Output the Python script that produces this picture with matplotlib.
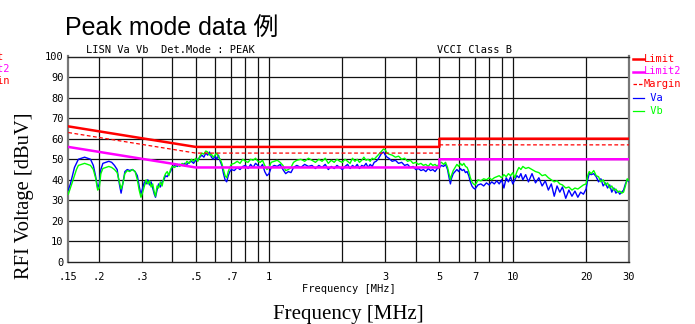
import numpy as np
import matplotlib
matplotlib.use('Agg')
import matplotlib.pyplot as plt
from matplotlib.lines import Line2D

# Limit lines (VCCI class B), frequency in MHz
limit_freq = [0.15, 0.5, 5, 5, 30]
limit_qp = [66, 56, 56, 60, 60]
limit_avg = [56, 46, 46, 50, 50]
margin_freq = [0.15, 0.5, 5, np.nan, 5, 30]
margin_db = [63, 53, 53, np.nan, 57, 57]

# Measured peak data, Va and Vb
freq_mhz = [0.150, 0.153, 0.156, 0.159, 0.162, 0.165, 0.170, 0.175, 0.180, 0.185,
            0.190, 0.194, 0.198, 0.201, 0.204, 0.208, 0.214, 0.220, 0.226, 0.232,
            0.238, 0.243, 0.247, 0.251, 0.256, 0.262, 0.268, 0.275, 0.282, 0.288,
            0.293, 0.298, 0.303, 0.308, 0.313, 0.318, 0.323, 0.328, 0.333, 0.338,
            0.342, 0.347, 0.352, 0.358, 0.364, 0.370, 0.376, 0.382, 0.388, 0.394,
            0.400, 0.410, 0.420, 0.430, 0.440, 0.450, 0.460, 0.470, 0.480, 0.490,
            0.500, 0.510, 0.520, 0.530, 0.540, 0.550, 0.560, 0.570, 0.580, 0.590,
            0.600, 0.610, 0.620, 0.630, 0.640, 0.650, 0.660, 0.670, 0.680, 0.690,
            0.700, 0.720, 0.740, 0.760, 0.780, 0.800, 0.820, 0.840, 0.860, 0.880,
            0.900, 0.920, 0.940, 0.960, 0.980, 1.00, 1.02, 1.05, 1.08, 1.11,
            1.14, 1.17, 1.20, 1.23, 1.26, 1.30, 1.35, 1.40, 1.45, 1.50,
            1.55, 1.60, 1.65, 1.70, 1.75, 1.80, 1.85, 1.90, 1.95, 2.00,
            2.05, 2.10, 2.15, 2.20, 2.25, 2.30, 2.35, 2.40, 2.45, 2.50,
            2.55, 2.60, 2.65, 2.70, 2.75, 2.80, 2.85, 2.90, 2.95, 3.00,
            3.05, 3.10, 3.20, 3.30, 3.40, 3.50, 3.60, 3.70, 3.80, 3.90,
            4.00, 4.10, 4.20, 4.30, 4.40, 4.50, 4.60, 4.70, 4.80, 4.90,
            5.00, 5.10, 5.20, 5.30, 5.40, 5.50, 5.55, 5.60, 5.70, 5.80,
            5.90, 6.00, 6.10, 6.20, 6.30, 6.40, 6.50, 6.60, 6.70, 6.80,
            6.90, 7.00, 7.10, 7.20, 7.40, 7.60, 7.80, 8.00, 8.20, 8.40,
            8.60, 8.80, 9.00, 9.20, 9.40, 9.60, 9.80, 10.0, 10.2, 10.4,
            10.6, 10.8, 11.0, 11.3, 11.6, 12.0, 12.4, 12.8, 13.2, 13.6,
            14.0, 14.4, 14.8, 15.2, 15.6, 16.0, 16.5, 17.0, 17.5, 18.0,
            18.5, 19.0, 19.5, 20.0, 20.3, 20.6, 21.0, 21.5, 22.0, 22.5,
            23.0, 23.5, 24.0, 24.5, 25.0, 25.5, 26.0, 26.5, 27.0, 27.5,
            28.0, 28.5, 29.0, 29.5, 30.0]

va = [35, 38, 42, 46, 48, 50, 50.5, 51, 50.5, 50,
      47, 42, 36, 38, 45, 48, 48.5, 49, 48.5, 47,
      45, 38, 33.5, 38, 44, 45, 44.5, 45, 44, 42,
      37, 33, 36, 39, 38, 40, 37.5, 39, 36, 33,
      31.5, 35, 38, 36.5, 39, 40, 42, 41.5, 43, 44,
      46, 47, 46.5, 47.5, 47, 48, 47.5, 48.5, 49, 48,
      49.5, 50, 51, 52, 51, 53, 52, 53.5, 51, 50,
      51.5, 50, 52, 49, 47, 43, 40, 39, 42, 44,
      45, 44.5, 46, 45, 46.5, 47, 45.5, 47.5, 46, 48,
      47, 46, 47.5, 44, 42, 43, 46, 47, 46.5, 47.5,
      45, 43, 44, 43.5, 46, 47, 46, 47.5, 46.5, 47,
      45.5, 47, 46, 47.5, 45, 46.5, 45.5, 47, 46, 45,
      46.5, 47.5, 45.5, 47, 46, 47.5, 45.5, 47, 46.5, 48,
      46, 47.5, 46.5, 48.5, 49, 50, 51.5, 53, 53.5, 52,
      51, 50.5, 49, 49.5, 48, 48.5, 47, 47.5, 46, 46.5,
      45, 45.5, 44.5, 45, 44, 45.5, 44.5, 45, 44, 45.5,
      46, 47, 46.5, 47.5, 45, 40, 38, 40.5, 43, 44,
      45, 44, 45.5, 44.5, 45, 43.5, 44, 42, 39, 37,
      36, 35.5, 36.5, 37.5, 38, 37, 38.5, 37.5, 39, 38,
      39.5, 38, 40, 36, 41, 39, 41.5, 38, 40, 42,
      41, 43, 40, 42.5, 39, 43, 38.5, 41, 37, 39.5,
      35, 38, 32, 37, 34, 36.5, 31, 35, 32, 34.5,
      31.5, 34, 33, 35.5, 40, 43, 42.5, 43, 41.5, 39,
      40.5, 37, 38.5, 36, 37.5, 34, 36, 33.5, 34.5, 33,
      34, 35, 38, 40, 39]

vb = [33, 36, 39, 42, 45, 47, 47.5, 48, 47.5, 47,
      45, 41, 35, 36, 43, 45.5, 46, 46.5, 46, 45,
      43.5, 39, 35.5, 38, 43, 44.5, 44, 45, 44, 40,
      35, 31.5, 34, 37, 40, 38, 39.5, 36.5, 38, 34,
      32, 37, 36, 39, 37, 41, 43, 44, 42, 45,
      46.5, 46, 47.5, 46.5, 48, 47, 49, 48, 50, 49,
      50.5, 49, 51.5, 53, 52.5, 54, 53.5, 52, 52.5, 51,
      52, 53, 51, 50, 48, 45, 42, 41, 44, 46,
      47.5, 48, 49, 48, 50, 49, 48.5, 50, 49.5, 50.5,
      49, 48.5, 49.5, 47, 45, 46, 48.5, 49, 49.5, 48.5,
      47, 44.5, 45, 46, 48.5, 49.5, 50, 49, 50.5, 49.5,
      48.5, 50, 49, 50.5, 48, 49.5, 48.5, 50, 49, 48.5,
      50, 49, 48, 50.5, 49, 50, 48.5, 49.5, 51, 49.5,
      50, 49, 50.5, 50, 51, 52, 53, 54, 55, 54.5,
      53, 52.5, 52, 51, 51.5, 50, 50.5, 49, 49.5, 48,
      48.5, 47.5, 48, 47, 47.5, 46.5, 48, 47, 47.5, 46.5,
      48, 48.5, 47.5, 48.5, 46, 42, 40, 42, 44.5, 46,
      47.5, 46.5, 48, 47, 48, 46.5, 46, 44, 41, 39,
      38, 37.5, 38.5, 40, 39.5, 40.5, 40, 41, 40, 41,
      41.5, 42, 41, 42.5, 41.5, 43, 42, 43.5, 41, 44,
      46, 45, 46.5, 45.5, 46, 45, 44, 43.5, 42, 42.5,
      41, 40, 39, 39.5, 38, 37.5, 36, 36.5, 35, 36,
      35.5, 36.5, 37.5, 38, 42, 44, 43, 44.5, 42, 41.5,
      39, 40, 37.5, 38.5, 36, 37, 35, 35.5, 34, 34.5,
      33.5, 34, 37, 40.5, 39.5]

y_ticks = list(range(0, 101, 10))
x_ticks = [0.15, 0.2, 0.3, 0.5, 0.7, 1, 3, 5, 7, 10, 20, 30]
x_tick_labels = ['.15', '.2', '.3', '.5', '.7', '1', '3', '5', '7', '10', '20', '30']
x_grid = [0.2, 0.3, 0.4, 0.5, 0.6, 0.7, 0.8, 0.9, 1, 2, 3, 4, 5, 6, 7, 8, 9, 10, 20]

W, H = 695, 324
mono = 'DejaVu Sans Mono'
serif = 'Liberation Serif'

fig = plt.figure(figsize=(W / 100, H / 100), dpi=100)
fig.patch.set_facecolor('white')
ax = fig.add_axes([68.3 / W, (H - 262) / H, (629 - 68.3) / W, (262 - 56.5) / H])

ax.plot(freq_mhz, va, color='#0000ff', lw=1.0, zorder=3)
ax.plot(freq_mhz, vb, color='#00ff00', lw=1.0, zorder=4)
ax.plot(limit_freq, limit_qp, color='#ff0000', lw=1.8, zorder=5)
ax.plot(limit_freq, limit_avg, color='#ff00ff', lw=1.8, zorder=5)
ax.plot(margin_freq, margin_db, color='#ff0000', lw=0.9, dashes=(3, 2), zorder=5)

ax.set_xscale('log')
ax.set_xlim(0.15, 30)
ax.set_ylim(0, 100)
ax.set_xticks(x_ticks)
ax.set_xticklabels(x_tick_labels)
ax.xaxis.set_minor_locator(matplotlib.ticker.NullLocator())
ax.set_yticks(y_ticks)
ax.tick_params(axis='both', length=0, labelsize=7.5)
ax.tick_params(axis='x', pad=7)
ax.tick_params(axis='y', pad=3.5)
for lab in ax.get_xticklabels() + ax.get_yticklabels():
    lab.set_family(mono)

# grid
for g in x_grid:
    ax.axvline(g, color='#111111', lw=0.9, zorder=1)
for g in y_ticks[1:]:
    ax.axhline(g, color='#111111', lw=0.9, zorder=1)
for side in ['left', 'right']:
    ax.spines[side].set_color('#777777')
    ax.spines[side].set_linewidth(1.6)
for side in ['top', 'bottom']:
    ax.spines[side].set_color('#222222')
    ax.spines[side].set_linewidth(1.0)

ax.set_xlabel('Frequency [MHz]', family=mono, fontsize=7.5, labelpad=2)

# titles and labels
fig.text(65 / W, (H - 35) / H, 'Peak mode data 例', fontsize=18,
         family=['Liberation Sans', 'Noto Sans CJK JP'], va='baseline')
fig.text(86 / W, (H - 50) / H, 'LISN Va Vb  Det.Mode : PEAK', family=mono,
         fontsize=7.5, va='center')
fig.text(437 / W, (H - 50) / H, 'VCCI Class B', family=mono, fontsize=7.5, va='center')
fig.text(25 / W, (H - 196) / H, 'RFI Voltage [dBuV]', family=serif, fontsize=14.8,
         rotation=90, ha='center', va='center')
fig.text(348 / W, (H - 315) / H, 'Frequency [MHz]', family=serif, fontsize=15,
         ha='center', va='center')

# legend on the right
legend_items = [('Limit', '#ff0000', 59, 1.8, '-'),
                ('Limit2', '#ff00ff', 71.5, 1.8, '-'),
                ('Margin', '#ff0000', 84, 0.9, '--'),
                (' Va', '#0000ff', 98, 0.9, '-'),
                (' Vb', '#00ff00', 111, 0.9, '-')]
for label, col, yp, lw, ls in legend_items:
    line = Line2D([633 / W, 644 / W], [(H - yp) / H, (H - yp) / H], color=col, lw=lw)
    if ls == '--':
        line.set_dashes((2.8, 1.6))
    fig.add_artist(line)
    fig.text(644 / W, (H - yp) / H, label, color=col, family=mono, fontsize=7.5, va='center')

# the reference also shows a copy of the legend cut off at the left edge
for label, col, yp in [('Limit', '#ff0000', 57), ('Limit2', '#ff00ff', 69), ('Margin', '#ff0000', 81)]:
    fig.text(-27 / W, (H - yp) / H, label, color=col, family=mono, fontsize=7.5, va='center')

fig.savefig('out.png', dpi=100, facecolor='white')
